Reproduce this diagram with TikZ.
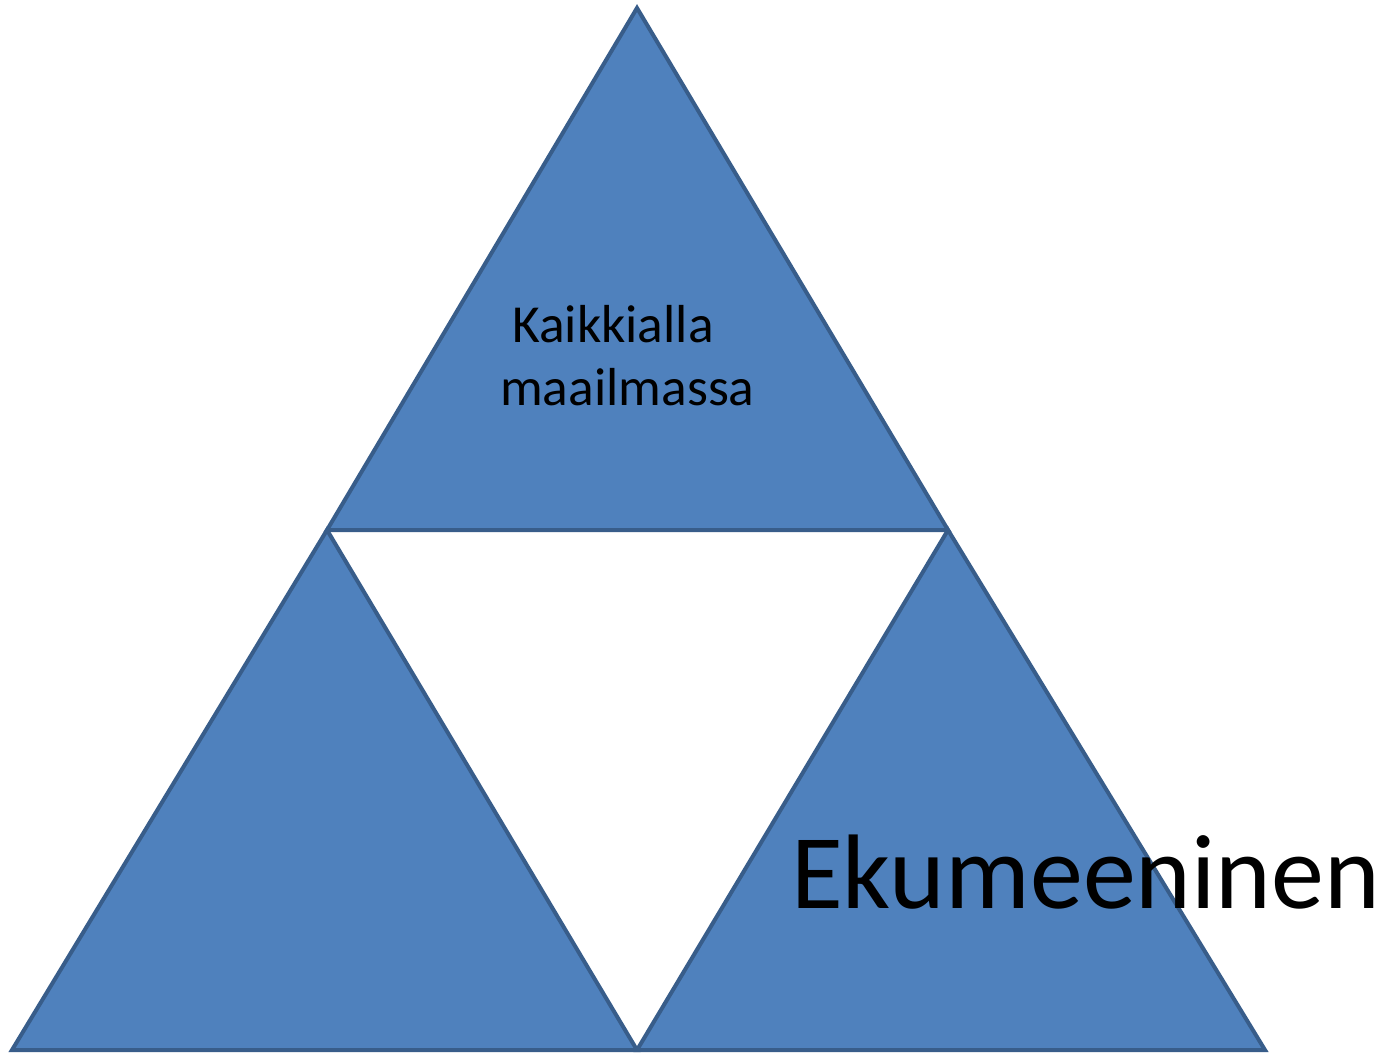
\documentclass[tikz,border=0pt]{standalone}
\usepackage{fontspec}
\setmainfont{Carlito}
\definecolor{triFill}{HTML}{4F81BD}
\definecolor{triLine}{HTML}{385D8A}
\begin{document}
\begin{tikzpicture}[x=1pt,y=-1pt,
  tri/.style={fill=triFill,draw=triLine,line width=4pt,line join=miter},
  lbl/.style={inner sep=0pt,anchor=base west,text=black}]
\useasboundingbox[fill=white] (0,0) rectangle (1381,1055);
\coordinate (A) at (637,8);
\coordinate (B) at (327,530);
\coordinate (C) at (948,530);
\coordinate (D) at (12,1050);
\coordinate (E) at (637,1050);
\coordinate (F) at (1265,1050);
\draw[tri] (A) -- (C) -- (B) -- cycle;
\draw[tri] (B) -- (E) -- (D) -- cycle;
\draw[tri] (C) -- (F) -- (E) -- cycle;
\node[lbl,font=\fontsize{53.5}{64}\selectfont] (l1) at (512,342) {Kaikkialla};
\node[lbl,font=\fontsize{53.5}{64}\selectfont] (l2) at (500,405) {maailmassa};
\node[lbl,font=\fontsize{106}{127}\selectfont] (ek) at (791,908) {Ekumeeninen};
\end{tikzpicture}
\end{document}
